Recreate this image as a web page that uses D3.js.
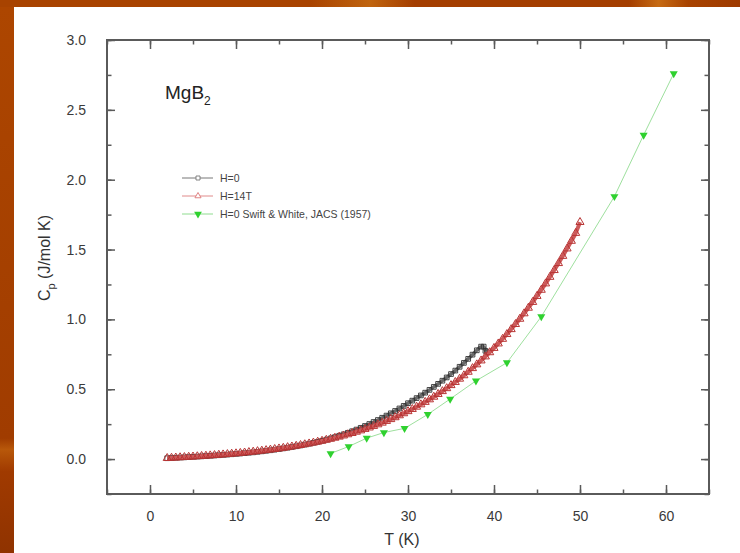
<!DOCTYPE html>
<meta charset="utf-8">
<style>
body { margin: 0; background: #a84300; }
svg { display: block; font-family: "Liberation Sans", Arial, sans-serif; }
</style>
<body>
<script src="https://d3js.org/d3.v7.min.js"></script>
<script>
// H=0 (black open squares)
var tempH0 = [2,2.5,3,3.5,4,4.5,5,5.5,6,6.5,7,7.5,8,8.5,9,9.5,10,10.5,11,11.5,12,12.5,13,13.5,14,14.5,15,15.5,16,16.5,17,17.5,18,18.5,19,19.5,20,
  20.5,21,21.5,22,22.5,23,23.5,24,24.5,25,25.5,26,26.5,27,27.5,28,28.5,29,29.5,30,30.5,31,31.5,32,32.5,33,33.5,34,34.5,35,35.5,36,36.5,37,37.5,38,38.5,38.8,39,39.2];
var cpH0 = [0.0061,0.0076,0.0092,0.0109,0.0124,0.0142,0.0159,0.0177,0.0195,0.0214,0.0234,0.0255,0.0276,0.0298,0.0321,0.0345,0.0370,0.0396,0.0423,0.0452,0.0481,
  0.0518,0.0554,0.0592,0.0631,0.0674,0.0717,0.0764,0.0813,0.0864,0.0918,0.0975,0.1035,0.1098,0.1164,0.1233,0.1305,
  0.1390,0.1477,0.1570,0.1668,0.1770,0.1879,0.1993,0.2112,0.2238,0.2371,0.2510,0.2656,0.2798,0.2958,0.3113,0.3276,0.3445,0.3623,0.3807,0.4000,
  0.4183,0.4366,0.4556,0.4753,0.4956,0.5167,0.5385,0.5610,0.5844,0.6086,0.6335,0.6606,0.6885,0.7175,0.7475,0.7786,0.8050,0.8050,0.7750,0.7650];

// H=14T (red open triangles)
var tempH14 = [2,2.5,3,3.5,4,4.5,5,5.5,6,6.5,7,7.5,8,8.5,9,9.5,10,10.5,11,11.5,12,12.5,13,13.5,14,14.5,15,15.5,16,16.5,17,17.5,18,18.5,19,19.5,20,
  20.5,21,21.5,22,22.5,23,23.5,24,24.5,25,25.5,26,26.5,27,27.5,28,28.5,29,29.5,30,30.5,31,31.5,32,32.5,33,33.5,34,34.5,35,35.5,36,36.5,37,37.5,38,38.5,39,39.5,40,
  40.5,41,41.5,42,42.5,43,43.5,44,44.5,45,45.5,46,46.5,47,47.5,48,48.5,49,49.5,50];
var cpH14 = [0.0066,0.0083,0.0100,0.0118,0.0135,0.0154,0.0173,0.0192,0.0212,0.0233,0.0254,0.0277,0.0300,0.0324,0.0349,0.0375,0.0402,0.0430,0.0460,0.0491,0.0523,
  0.0557,0.0593,0.0630,0.0668,0.0709,0.0751,0.0796,0.0842,0.0891,0.0942,0.0995,0.1051,0.1109,0.1170,0.1233,0.1299,
  0.1369,0.1441,0.1517,0.1596,0.1678,0.1764,0.1854,0.1947,0.2044,0.2146,0.2251,0.2361,0.2476,0.2595,0.2719,0.2849,0.2983,0.3123,0.3268,0.3419,
  0.3575,0.3738,0.3907,0.4083,0.4265,0.4454,0.4650,0.4853,0.5064,0.5283,0.5509,0.5744,0.5987,0.6239,0.6500,0.6770,0.7049,0.7338,0.7636,0.7946,
  0.8266,0.8596,0.8938,0.9291,0.9656,1.0033,1.0422,1.0824,1.1238,1.1667,1.2108,1.2564,1.3034,1.3519,1.4019,1.4535,1.5066,1.5614,1.6179,1.6960];

// H=0 Swift & White, JACS (1957) (green filled triangles)
var tempSW = [21.0,23.1,25.2,27.2,29.6,32.3,34.9,37.9,41.5,45.5,54.0,57.4,60.9];
var cpSW = [0.04,0.09,0.15,0.19,0.22,0.32,0.43,0.56,0.69,1.02,1.88,2.32,2.76];

var xTicks = [0,10,20,30,40,50,60];
var yTicks = [0.0,0.5,1.0,1.5,2.0,2.5,3.0];
var legendLabels = ["H=0", "H=14T", "H=0 Swift & White, JACS (1957)"];

var W = 740, H = 553;
var svg = d3.select("body").append("svg").attr("width", W).attr("height", H);

// slide background
var defs = svg.append("defs");
var gTop = defs.append("linearGradient").attr("id", "gtop").attr("x1", 0).attr("x2", 1).attr("y1", 0).attr("y2", 0);
[[0,"#a84300"],[0.42,"#a84300"],[0.5,"#c0640e"],[0.56,"#a43e00"],[0.85,"#a43e00"],[0.89,"#c66a12"],[0.93,"#a84300"],[1,"#9e3a00"]]
  .forEach(function(s){ gTop.append("stop").attr("offset", s[0]).attr("stop-color", s[1]); });
var gLeft = defs.append("linearGradient").attr("id", "gleft").attr("x1", 0).attr("x2", 0).attr("y1", 0).attr("y2", 1);
[[0,"#ad4600"],[0.78,"#a03c00"],[0.8,"#b8580a"],[0.84,"#a03a00"],[1,"#8e3200"]]
  .forEach(function(s){ gLeft.append("stop").attr("offset", s[0]).attr("stop-color", s[1]); });
svg.append("rect").attr("width", W).attr("height", 7).attr("fill", "url(#gtop)");
svg.append("rect").attr("y", 7).attr("width", 14).attr("height", H).attr("fill", "url(#gleft)");
svg.append("rect").attr("x", 14).attr("y", 7).attr("width", W - 14).attr("height", H - 7).attr("fill", "#fff");

var plotL = 107, plotR = 709, plotT = 40, plotB = 494;
var x = d3.scaleLinear().domain([-5, 65]).range([plotL, plotR]);
var y = d3.scaleLinear().domain([-0.25, 3.0]).range([plotB, plotT]);

var axisColor = "#5a5a5a";
function styleAxis(g) {
  g.select(".domain").remove();
  g.selectAll(".tick line").attr("stroke", axisColor).attr("stroke-width", 1.5);
  g.selectAll("text").attr("fill", "#3a3a3a").style("font-size", "14px");
}
var xMinor = d3.range(-5, 66, 5);
var yMinor = d3.range(-0.25, 3.01, 0.25);

// minor ticks
svg.append("g").attr("transform", "translate(0," + plotB + ")")
  .call(d3.axisBottom(x).tickValues(xMinor).tickSizeInner(-4.5).tickSizeOuter(0).tickFormat(""))
  .call(styleAxis);
svg.append("g").attr("transform", "translate(0," + plotT + ")")
  .call(d3.axisTop(x).tickValues(xMinor).tickSizeInner(-4.5).tickSizeOuter(0).tickFormat(""))
  .call(styleAxis);
svg.append("g").attr("transform", "translate(" + plotL + ",0)")
  .call(d3.axisLeft(y).tickValues(yMinor).tickSizeInner(-4.5).tickSizeOuter(0).tickFormat(""))
  .call(styleAxis);
svg.append("g").attr("transform", "translate(" + plotR + ",0)")
  .call(d3.axisRight(y).tickValues(yMinor).tickSizeInner(-4.5).tickSizeOuter(0).tickFormat(""))
  .call(styleAxis);

// major ticks
svg.append("g").attr("transform", "translate(0," + plotB + ")")
  .call(d3.axisBottom(x).tickValues(xTicks).tickSizeInner(-9).tickSizeOuter(0).tickPadding(17).tickFormat(d3.format("d")))
  .call(styleAxis);
svg.append("g").attr("transform", "translate(0," + plotT + ")")
  .call(d3.axisTop(x).tickValues(xTicks).tickSizeInner(-9).tickSizeOuter(0).tickFormat(""))
  .call(styleAxis);
svg.append("g").attr("transform", "translate(" + plotL + ",0)")
  .call(d3.axisLeft(y).tickValues(yTicks).tickSizeInner(-8).tickSizeOuter(0).tickPadding(21).tickFormat(d3.format(".1f")))
  .call(styleAxis);
svg.append("g").attr("transform", "translate(" + plotR + ",0)")
  .call(d3.axisRight(y).tickValues(yTicks).tickSizeInner(-8).tickSizeOuter(0).tickFormat(""))
  .call(styleAxis);

// frame
svg.append("rect").attr("x", plotL).attr("y", plotT).attr("width", plotR - plotL).attr("height", plotB - plotT)
  .attr("fill", "none").attr("stroke", axisColor).attr("stroke-width", 2);

// axis titles
svg.append("text").attr("x", 402).attr("y", 545).attr("text-anchor", "middle")
  .attr("fill", "#333").style("font-size", "16px").text("T (K)");
var yt = svg.append("text").attr("transform", "translate(50,258) rotate(-90)").attr("text-anchor", "middle")
  .attr("fill", "#333").style("font-size", "16px");
yt.append("tspan").text("C");
yt.append("tspan").attr("dy", 5).style("font-size", "11px").text("p");
yt.append("tspan").attr("dy", -5).text(" (J/mol K)");

// sample label
var lab = svg.append("text").attr("x", 165).attr("y", 99).attr("fill", "#222").style("font-size", "19px");
lab.append("tspan").text("MgB");
lab.append("tspan").attr("dy", 6).style("font-size", "12px").text("2");

var line = d3.line().curve(d3.curveMonotoneX).x(function(d){ return x(d[0]); }).y(function(d){ return y(d[1]); });
var dH0 = d3.zip(tempH0, cpH0), dH14 = d3.zip(tempH14, cpH14), dSW = d3.zip(tempSW, cpSW);

var sq = d3.symbol().type(d3.symbolSquare).size(22);
var tri = d3.symbol().type(d3.symbolTriangle).size(28);
var blk = "#333", red = "#b83434", grn = "#2fd12f";

// H=0 (dense data drawn as a band)
svg.append("path").datum(dH0).attr("d", line).attr("fill", "none").attr("stroke", "#6a6a6a").attr("stroke-width", 3.5);
svg.append("g").selectAll("path").data(dH0).join("path")
  .attr("d", sq).attr("transform", function(d){ return "translate(" + x(d[0]) + "," + y(d[1]) + ")"; })
  .attr("fill", "none").attr("stroke", blk).attr("stroke-width", 0.9);

// H=14T
svg.append("path").datum(dH14).attr("d", line).attr("fill", "none").attr("stroke", "#cc5a5a").attr("stroke-width", 4);
svg.append("g").selectAll("path").data(dH14).join("path")
  .attr("d", tri).attr("transform", function(d){ return "translate(" + x(d[0]) + "," + y(d[1]) + ")"; })
  .attr("fill", "none").attr("stroke", red).attr("stroke-width", 1);

// Swift & White
svg.append("path").datum(dSW).attr("d", d3.line().x(function(d){ return x(d[0]); }).y(function(d){ return y(d[1]); }))
  .attr("fill", "none").attr("stroke", "#9ee09e").attr("stroke-width", 1);
svg.append("g").selectAll("path").data(dSW).join("path")
  .attr("d", tri).attr("transform", function(d){ return "translate(" + x(d[0]) + "," + y(d[1]) + ") rotate(180)"; })
  .attr("fill", grn).attr("stroke", "none");

// legend
var legY = [178, 196, 214];
var legStroke = ["#777", "#e08a8a", "#8fdc8f"];
var legMark = [sq, tri, tri];
legendLabels.forEach(function(t, i){
  var g = svg.append("g").attr("transform", "translate(0," + legY[i] + ")");
  g.append("line").attr("x1", 182).attr("x2", 213).attr("stroke", legStroke[i]).attr("stroke-width", 1);
  var m = g.append("path").attr("d", legMark[i].size(i === 2 ? 26 : 16)());
  if (i === 2) m.attr("transform", "translate(198,0) rotate(180)").attr("fill", grn);
  else m.attr("transform", "translate(198,0)").attr("fill", "#fff").attr("stroke", i === 0 ? "#777" : "#d77").attr("stroke-width", 0.9);
  g.append("text").attr("x", 220).attr("y", 4).attr("fill", "#444").style("font-size", "10.5px").text(t);
});
</script>
</body>
